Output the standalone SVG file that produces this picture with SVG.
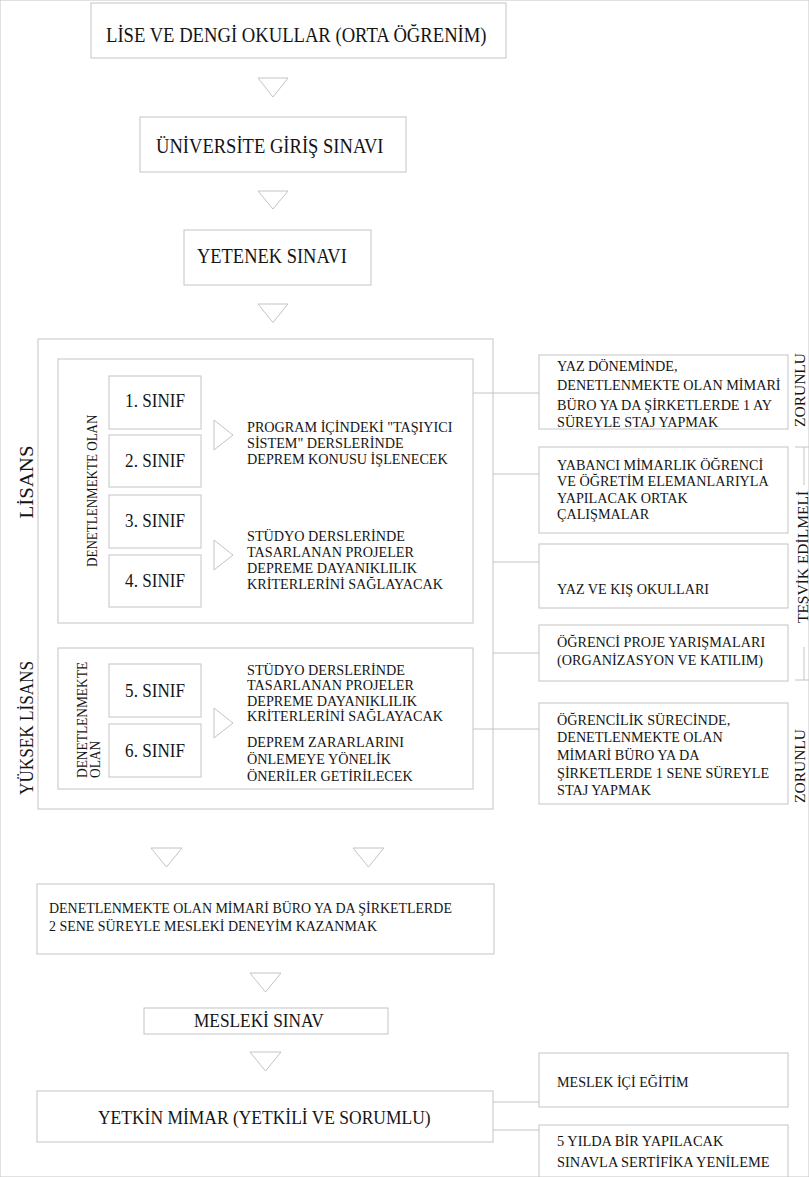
<svg xmlns="http://www.w3.org/2000/svg" width="809" height="1177" viewBox="0 0 809 1177" font-family="'Liberation Serif', 'Times New Roman', 'DejaVu Serif', serif">
<style>
rect, .ln, .tri { fill: none; stroke: #c4c4c4; stroke-width: 1; }
text { font-family: 'Liberation Serif', 'Times New Roman', 'DejaVu Serif', serif; fill: #141414; }
.f20 { font-size: 20.5px; }
.f19 { font-size: 19px; }
.f155 { font-size: 15.5px; }
.f145 { font-size: 14.5px; }
</style>
<rect x="0" y="0" width="809" height="1177" fill="#ffffff" stroke="none"/>

<g id="lise">
<rect x="91" y="3" width="415" height="55"/>
<g transform="translate(106,42) scale(0.91,1)"><text class="f20">LİSE VE DENGİ OKULLAR (ORTA ÖĞRENİM)</text></g>
</g>
<g id="universite">
<rect x="140" y="117" width="266" height="55"/>
<g transform="translate(156,153) scale(0.906,1)"><text class="f20">ÜNİVERSİTE GİRİŞ SINAVI</text></g>
</g>
<g id="yetenek">
<rect x="184" y="230" width="187" height="55"/>
<g transform="translate(197,263) scale(0.9,1)"><text class="f20">YETENEK SINAVI</text></g>
</g>

<g id="egitim">
<rect x="38" y="339" width="455" height="470"/>
<g transform="translate(33,482) rotate(-90) scale(1.1,1)"><text class="f19" text-anchor="middle">LİSANS</text></g>
<g transform="translate(33,795) rotate(-90) scale(0.904,1)"><text class="f19">YÜKSEK LİSANS</text></g>
</g>

<g id="lisans">
<rect x="58" y="359" width="415" height="264"/>
<g transform="translate(97,567) rotate(-90) scale(0.9,1)"><text class="f145">DENETLENMEKTE OLAN</text></g>
</g>
<g id="sinif1"><rect x="109" y="376" width="92" height="53"/>
<g transform="translate(155,407) scale(0.9,1)"><text class="f19" text-anchor="middle">1. SINIF</text></g></g>
<g id="sinif2"><rect x="109" y="435" width="92" height="52"/>
<g transform="translate(155,467) scale(0.9,1)"><text class="f19" text-anchor="middle">2. SINIF</text></g></g>
<g id="sinif3"><rect x="109" y="495" width="92" height="53"/>
<g transform="translate(155,527) scale(0.9,1)"><text class="f19" text-anchor="middle">3. SINIF</text></g></g>
<g id="sinif4"><rect x="109" y="555" width="92" height="52"/>
<g transform="translate(155,587) scale(0.9,1)"><text class="f19" text-anchor="middle">4. SINIF</text></g></g>
<g id="tasiyici">
<g transform="translate(247,432) scale(0.915,1)"><text class="f155"><tspan x="0" y="0">PROGRAM İÇİNDEKİ "TAŞIYICI</tspan><tspan x="0" y="16">SİSTEM" DERSLERİNDE</tspan><tspan x="0" y="32">DEPREM KONUSU İŞLENECEK</tspan></text></g>
</g>
<g id="studyo1">
<g transform="translate(247,541) scale(0.915,1)"><text class="f155"><tspan x="0" y="0">STÜDYO DERSLERİNDE</tspan><tspan x="0" y="16">TASARLANAN PROJELER</tspan><tspan x="0" y="32">DEPREME DAYANIKLILIK</tspan><tspan x="0" y="48">KRİTERLERİNİ SAĞLAYACAK</tspan></text></g>
</g>

<g id="yukseklisans">
<rect x="58" y="648" width="415" height="141"/>
<g transform="translate(87,778) rotate(-90) scale(0.925,1)"><text class="f145">DENETLENMEKTE</text></g>
<g transform="translate(100,778) rotate(-90) scale(0.925,1)"><text class="f145">OLAN</text></g>
</g>
<g id="sinif5"><rect x="109" y="664" width="92" height="53"/>
<g transform="translate(155,697) scale(0.9,1)"><text class="f19" text-anchor="middle">5. SINIF</text></g></g>
<g id="sinif6"><rect x="109" y="724" width="92" height="53"/>
<g transform="translate(155,757) scale(0.9,1)"><text class="f19" text-anchor="middle">6. SINIF</text></g></g>
<g id="studyo2">
<g transform="translate(247,675) scale(0.915,1)"><text class="f155"><tspan x="0" y="0">STÜDYO DERSLERİNDE</tspan><tspan x="0" y="15.5">TASARLANAN PROJELER</tspan><tspan x="0" y="31">DEPREME DAYANIKLILIK</tspan><tspan x="0" y="46.5">KRİTERLERİNİ SAĞLAYACAK</tspan><tspan x="0" y="72">DEPREM ZARARLARINI</tspan><tspan x="0" y="89">ÖNLEMEYE YÖNELİK</tspan><tspan x="0" y="106">ÖNERİLER GETİRİLECEK</tspan></text></g>
</g>

<g id="yazdonemi"><rect x="539" y="355" width="249" height="74"/>
<g transform="translate(557,371) scale(0.915,1)"><text class="f155"><tspan x="0" y="0">YAZ DÖNEMİNDE,</tspan><tspan x="0" y="19.5">DENETLENMEKTE OLAN MİMARİ</tspan><tspan x="0" y="39">BÜRO YA DA ŞİRKETLERDE 1 AY</tspan><tspan x="0" y="56.5">SÜREYLE STAJ YAPMAK</tspan></text></g></g>
<g id="yabanci"><rect x="539" y="447" width="249" height="86"/>
<g transform="translate(557,470) scale(0.915,1)"><text class="f155"><tspan x="0" y="0">YABANCI MİMARLIK ÖĞRENCİ</tspan><tspan x="0" y="16.3">VE ÖĞRETİM ELEMANLARIYLA</tspan><tspan x="0" y="32.6">YAPILACAK ORTAK</tspan><tspan x="0" y="48.9">ÇALIŞMALAR</tspan></text></g></g>
<g id="yazkis"><rect x="539" y="544" width="249" height="64"/>
<g transform="translate(557,594) scale(0.915,1)"><text class="f155">YAZ VE KIŞ OKULLARI</text></g></g>
<g id="yarisma"><rect x="539" y="625" width="249" height="56"/>
<g transform="translate(557,647) scale(0.915,1)"><text class="f155"><tspan x="0" y="0">ÖĞRENCİ PROJE YARIŞMALARI</tspan><tspan x="0" y="18">(ORGANİZASYON VE KATILIM)</tspan></text></g></g>
<g id="staj"><rect x="539" y="703" width="249" height="101"/>
<g transform="translate(557,725) scale(0.915,1)"><text class="f155"><tspan x="0" y="0">ÖĞRENCİLİK SÜRECİNDE,</tspan><tspan x="0" y="17.5">DENETLENMEKTE OLAN</tspan><tspan x="0" y="35">MİMARİ BÜRO YA DA</tspan><tspan x="0" y="53">ŞİRKETLERDE 1 SENE SÜREYLE</tspan><tspan x="0" y="70">STAJ YAPMAK</tspan></text></g></g>

<g id="etiketler">
<g transform="translate(805,390) rotate(-90)"><text class="f155" text-anchor="middle">ZORUNLU</text></g>
<g transform="translate(808,557) rotate(-90)"><text class="f155" text-anchor="middle">TEŞVİK EDİLMELİ</text></g>
<g transform="translate(805,766) rotate(-90)"><text class="f155" text-anchor="middle">ZORUNLU</text></g>
<polyline class="ln" points="795,447 804,447 804,485"/>
<polyline class="ln" points="804,647 804,680 795,680"/>
<line class="ln" x1="804" y1="447" x2="809" y2="447"/>
<line class="ln" x1="804" y1="680" x2="809" y2="680"/>
</g>

<g id="deneyim"><rect x="37" y="884" width="457" height="70"/>
<g transform="translate(49,913) scale(0.9,1)"><text class="f155"><tspan x="0" y="0">DENETLENMEKTE OLAN MİMARİ BÜRO YA DA ŞİRKETLERDE</tspan><tspan x="0" y="18">2 SENE SÜREYLE MESLEKİ DENEYİM KAZANMAK</tspan></text></g></g>
<g id="meslekisinav"><rect x="144" y="1008" width="244" height="26"/>
<g transform="translate(194,1027) scale(0.935,1)"><text style="font-size:18.5px">MESLEKİ SINAV</text></g></g>
<g id="yetkinmimar"><rect x="37" y="1091" width="456" height="51"/>
<g transform="translate(98,1124) scale(0.92,1)"><text class="f19">YETKİN MİMAR (YETKİLİ VE SORUMLU)</text></g></g>
<g id="meslekici"><rect x="539" y="1053" width="249" height="54"/>
<g transform="translate(557,1087) scale(0.94,1)"><text style="font-size:15px">MESLEK İÇİ EĞİTİM</text></g></g>
<g id="sertifika"><rect x="539" y="1125" width="249" height="60"/>
<g transform="translate(557,1146) scale(0.96,1)"><text style="font-size:15px"><tspan x="0" y="0">5 YILDA BİR YAPILACAK</tspan><tspan x="0" y="21">SINAVLA SERTİFİKA YENİLEME</tspan></text></g></g>

<g id="connectors">
<polygon class="tri" points="258,78 288,78 273,97"/>
<polygon class="tri" points="258,191 288,191 273,209"/>
<polygon class="tri" points="258,304 288,304 273,322.5"/>
<polygon class="tri" points="214,420 214,450 233,435"/>
<polygon class="tri" points="214,540 214,570 233,555"/>
<polygon class="tri" points="214,708 214,738 233,723"/>
<polygon class="tri" points="151,848 182,848 166.5,867"/>
<polygon class="tri" points="353,848 384,848 368.5,867"/>
<polygon class="tri" points="250,973 281,973 265.5,992"/>
<polygon class="tri" points="250,1052 281,1052 265.5,1071"/>
<line class="ln" x1="473" y1="393" x2="539" y2="393"/>
<line class="ln" x1="493" y1="474" x2="539" y2="474"/>
<line class="ln" x1="493" y1="562" x2="539" y2="562"/>
<line class="ln" x1="493" y1="653" x2="539" y2="653"/>
<line class="ln" x1="473" y1="729" x2="539" y2="729"/>
<line class="ln" x1="493" y1="1102" x2="539" y2="1102"/>
<line class="ln" x1="493" y1="1130" x2="539" y2="1130"/>
</g>
</svg>
